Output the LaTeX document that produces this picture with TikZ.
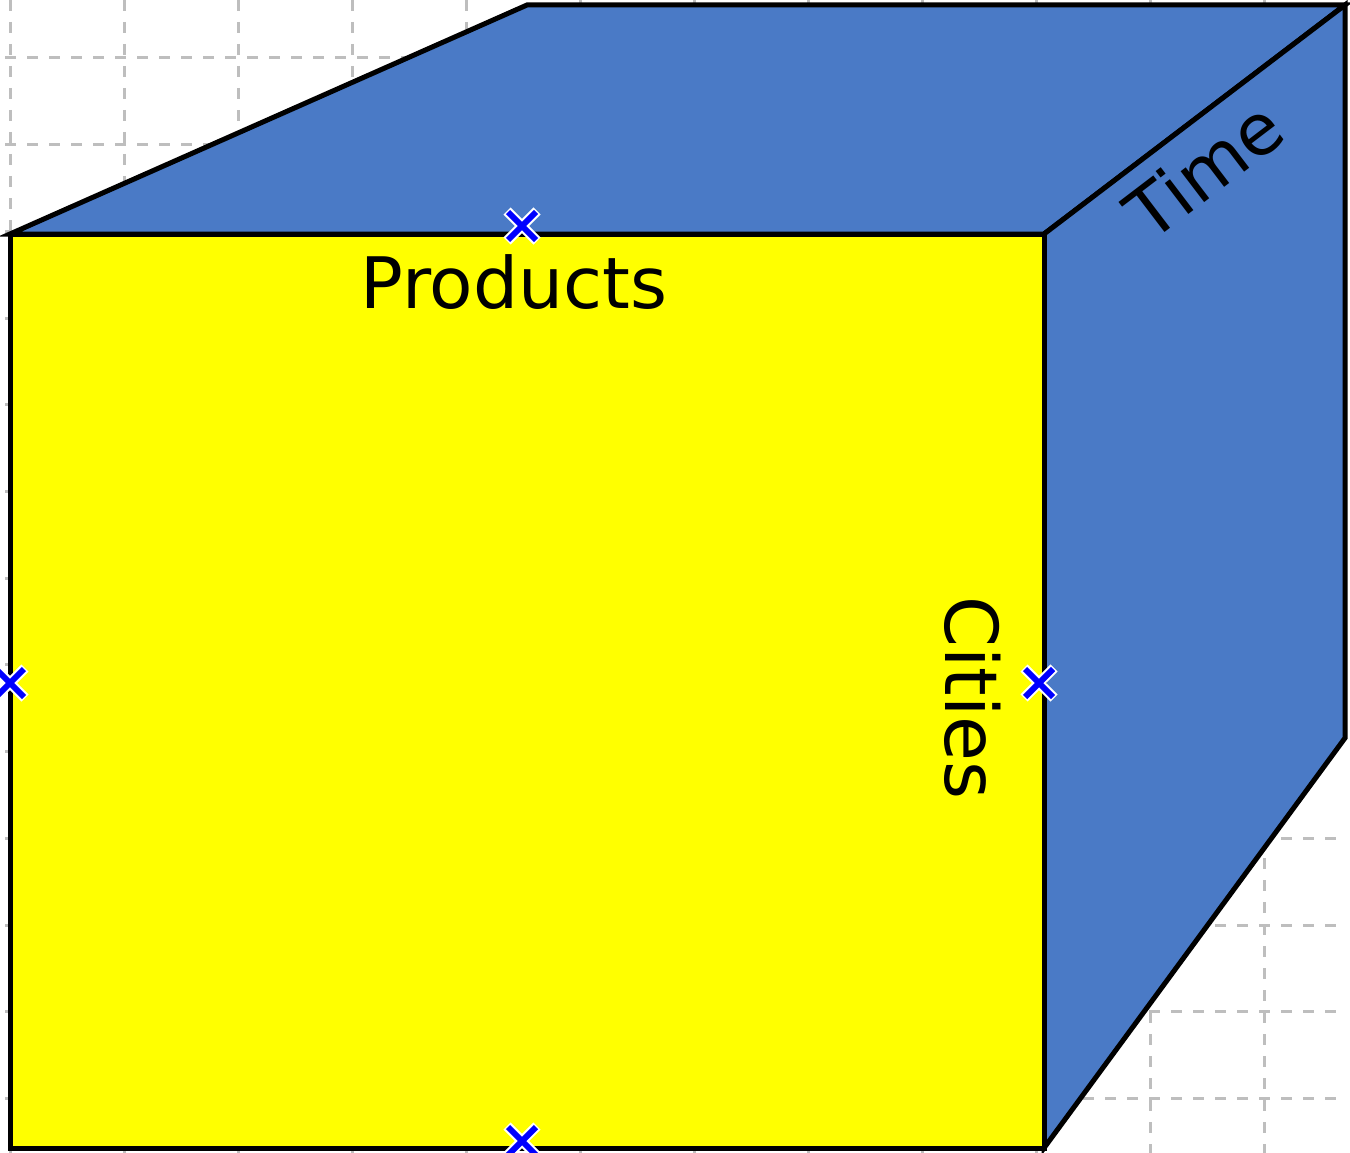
\documentclass[tikz,border=0pt]{standalone}
\usepackage{fontspec}
\setmainfont{DejaVu Sans}
\definecolor{faceblue}{RGB}{74,122,198}
\definecolor{faceyellow}{RGB}{255,255,0}
\definecolor{gridgray}{RGB}{190,190,190}
\definecolor{markblue}{RGB}{0,0,255}
\tikzset{
  gridline/.style={draw=gridgray, line width=3pt, dash pattern=on 11pt off 11pt},
  face/.style={draw=black, line width=5pt, line join=miter},
  axislabel/.style={font=\fontsize{71}{80}\selectfont, inner sep=0pt, text=black},
  markhalo/.style={draw=white, line width=10pt},
  markline/.style={draw=markblue, line width=6pt}
}
\begin{document}
\begin{tikzpicture}[x=1pt, y=-1pt]
  \useasboundingbox (0,0) rectangle (1350,1153);

  % background grid
  \foreach \gx in {10,124,238,352,466,580,694,808,922,1036,1150,1264}
    \draw[gridline] (\gx,0) -- (\gx,1153);
  \foreach \gy in {58,144.7,231.4,318.1,404.8,491.5,578.2,664.9,751.6,838.3,925,1011.7,1098.4}
    \draw[gridline] (5,\gy) -- (1345,\gy);

  % cube corners
  \coordinate (ftl) at (10,234);
  \coordinate (ftr) at (1044,234);
  \coordinate (fbr) at (1044,1148);
  \coordinate (fbl) at (10,1148);
  \coordinate (btl) at (527,5);
  \coordinate (btr) at (1345,5);
  \coordinate (bbr) at (1345,738);

  % faces
  \filldraw[face, fill=faceblue] (ftl) -- (btl) -- (btr) -- (ftr) -- cycle;
  \filldraw[face, fill=faceblue] (ftr) -- (btr) -- (bbr) -- (fbr) -- cycle;
  \filldraw[face, fill=faceyellow] (ftl) -- (ftr) -- (fbr) -- (fbl) -- cycle;

  % axis labels
  \node[axislabel, anchor=base] (products) at (514,308) {Products};
  \node[axislabel, anchor=base, rotate=-90, font=\fontsize{73}{80}\selectfont] (cities) at (945,698) {Cities};
  \node[axislabel, anchor=center, rotate=37.3] (time) at (1204,170) {Time};

  % edge midpoint markers
  \coordinate (mtop) at (522,226);
  \coordinate (mleft) at (10,683);
  \coordinate (mright) at (1039,683);
  \coordinate (mbottom) at (522,1141);
  \foreach \m in {mtop,mleft,mright,mbottom} {
    \draw[markhalo] ([shift={(-15,-15)}]\m) -- ([shift={(15,15)}]\m)
                    ([shift={(-15,15)}]\m) -- ([shift={(15,-15)}]\m);
    \draw[markline] ([shift={(-14,-14)}]\m) -- ([shift={(14,14)}]\m)
                    ([shift={(-14,14)}]\m) -- ([shift={(14,-14)}]\m);
  }
\end{tikzpicture}
\end{document}
